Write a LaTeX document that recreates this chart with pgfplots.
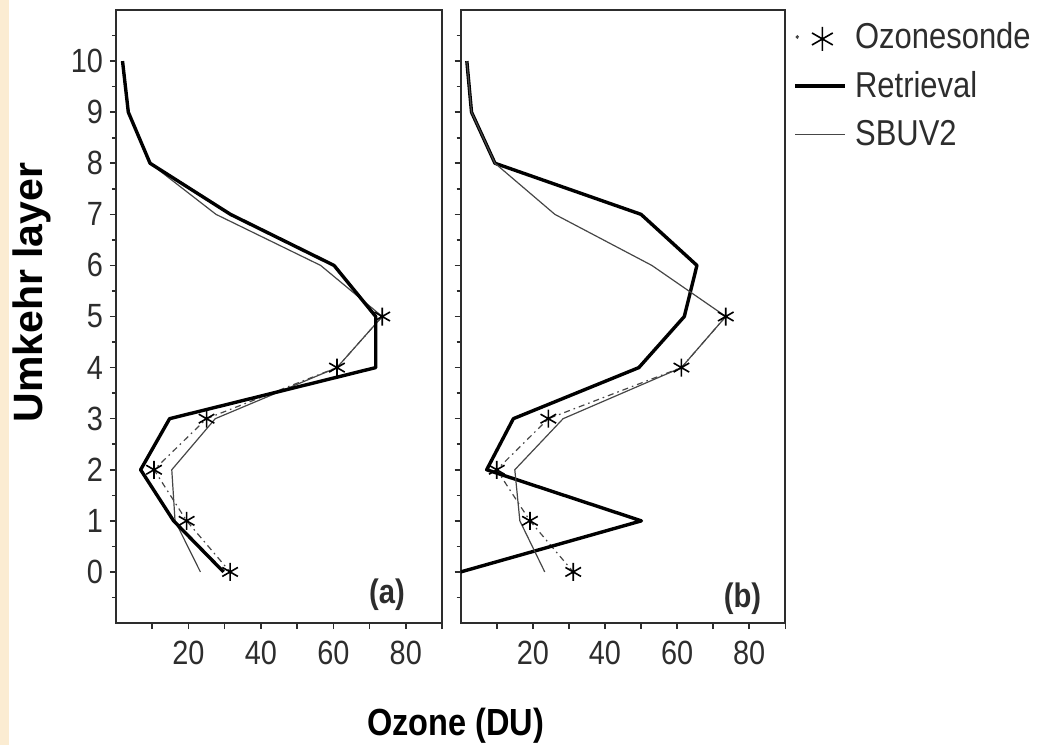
\documentclass[border=0pt]{standalone}
\usepackage{pgfplots}
\usepackage{pgfplotstable}
\pgfplotsset{compat=1.18}
\usepackage{fontspec}
\setmainfont{Liberation Sans}[FakeStretch=0.86]
\newfontfamily\ylabfont{Liberation Sans}
\definecolor{peach}{RGB}{251,236,210}
\definecolor{axgray}{RGB}{45,45,45}
\definecolor{thingray}{RGB}{70,70,70}

% ---------- panel (a) ----------
\pgfplotstableread{
x y
73.5 5
61.0 4
25.0 3
10.5 2
19.5 1
31.5 0
}\sondeA
\pgfplotstableread{
x y
1.8 10
3.4 9
9.4 8
31.6 7
60.2 6
71.7 5
71.7 4
14.8 3
6.8 2
15.9 1
29.7 0
}\retrA
\pgfplotstableread{
x y
1.8 10
3.4 9
9.4 8
27.6 7
56.5 6
73.5 5
61.0 4
27.4 3
15.4 2
16.3 1
23.3 0
}\sbuvA
% ---------- panel (b) ----------
\pgfplotstableread{
x y
73.5 5
61.2 4
24.3 3
10.0 2
19.2 1
31.2 0
}\sondeB
\pgfplotstableread{
x y
1.7 10
3.0 9
9.5 8
50.0 7
65.5 6
62.0 5
49.4 4
14.6 3
7.2 2
50.1 1
0.0 0
}\retrB
\pgfplotstableread{
x y
1.7 10
3.0 9
9.5 8
26.1 7
53.0 6
73.5 5
61.2 4
28.4 3
15.0 2
16.4 1
23.3 0
}\sbuvB

\pgfplotsset{
  panel/.style={
    scale only axis, height=306.5pt,
    anchor=south west,
    xmin=0, xmax=90, ymin=-1, ymax=11,
    axis line style={axgray, line width=1pt},
    tick style={axgray, line width=0.8pt},
    tick align=outside, tick pos=left,
    major tick length=3pt, minor tick length=2pt,
    xtick={10,20,...,90}, xticklabels={,20,,40,,60,,80,},
    ytick={0,...,10}, minor ytick={-0.5,0.5,...,10.5},
    ticklabel style={font=\fontsize{16.8}{18}\selectfont, text=axgray},
    xticklabel style={yshift=-2.5pt},
    /pgf/number format/assume math mode=true,
  },
  sonde/.style={thingray, line width=0.6pt, dash pattern=on 3pt off 2pt on 0.8pt off 2pt,
    mark=asterisk, mark size=4.5pt, mark options={solid, black, line width=0.8pt}},
  retr/.style={black, line width=1.7pt, line join=round, no markers},
  sbuv/.style={thingray, line width=0.6pt, line join=round, no markers},
  sondeleg/.style={legend image code/.code={
    \fill[thingray] (1pt,0pt) circle (0.6pt);
    \draw[draw=none] (0pt,0pt) -- (25pt,0pt);
    \draw[black, solid, mark=asterisk, mark size=6pt, line width=1pt] plot coordinates {(13.5pt,-1pt)};
  }},
  retrleg/.style={legend image code/.code={\draw[black, line width=1.7pt] (0pt,0pt) -- (25pt,0pt);}},
  sbuvleg/.style={legend image code/.code={\draw[thingray, line width=0.6pt] (0pt,0pt) -- (25pt,0pt);}},
}

\begin{document}
\begin{tikzpicture}
\useasboundingbox (0,0) rectangle (522pt,-372.5pt);
\fill[peach] (0,0) rectangle (4.5pt,-372.5pt);

\begin{axis}[panel, at={(58pt,-311.5pt)}, width=163pt,
  ylabel={\ylabfont\bfseries\fontsize{20.5}{22}\selectfont Umkehr layer},
  ylabel style={at={(axis description cs:-0.258,0.539)}, anchor=center},
  xlabel={\bfseries\fontsize{18.9}{20}\selectfont Ozone (DU)},
  xlabel style={at={(axis description cs:1.0414,-0.1827)}, anchor=base},
]
\addplot[sbuv] table[x=x,y=y]{\sbuvA};
\addplot[sonde] table[x=x,y=y]{\sondeA};
\addplot[retr] table[x=x,y=y]{\retrA};
\node[anchor=base east, font=\bfseries\fontsize{17}{18}\selectfont, text=axgray] at (rel axis cs:0.908,0.0326) {(a)};
\end{axis}

\begin{axis}[panel, at={(230.35pt,-311.5pt)}, width=162.3pt,
  yticklabels={},
  legend style={at={(axis description cs:1,1)}, anchor=north west, draw=none, fill=none,
    xshift=4pt, yshift=-4pt, inner sep=0pt,
    font=\fontsize{18}{20}\selectfont, text=axgray,
    row sep=6pt, /tikz/every odd column/.append style={column sep=2pt}},
  legend cell align=left,
]
\addplot[sonde, sondeleg] table[x=x,y=y]{\sondeB};
\addlegendentry{Ozonesonde}
\addplot[retr, retrleg] table[x=x,y=y]{\retrB};
\addlegendentry{Retrieval}
\addplot[sbuv, sbuvleg] table[x=x,y=y]{\sbuvB};
\addlegendentry{SBUV2}
\node[anchor=base east, font=\bfseries\fontsize{17}{18}\selectfont, text=axgray] at (rel axis cs:0.9476,0.026) {(b)};
\end{axis}
\end{tikzpicture}
\end{document}
